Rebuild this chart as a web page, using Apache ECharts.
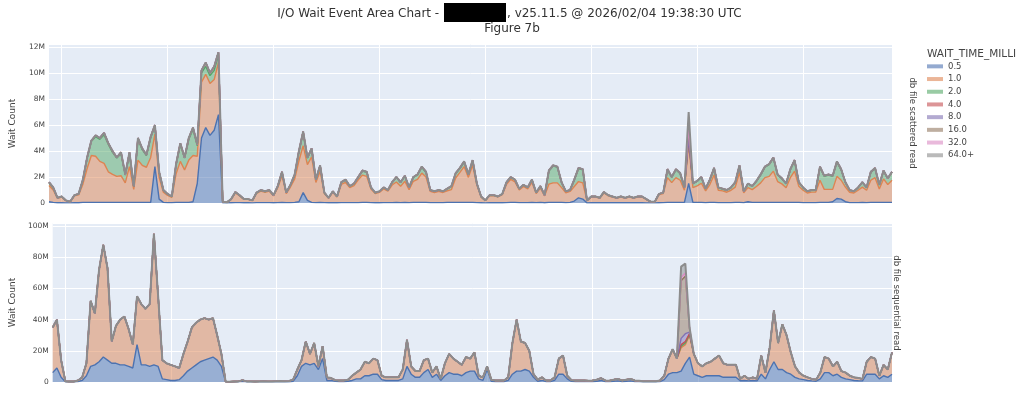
<!DOCTYPE html>
<html>
<head>
<meta charset="utf-8">
<script src="https://cdn.jsdelivr.net/npm/echarts@6/dist/echarts.min.js"></script>
<style>
  html, body { margin: 0; padding: 0; background: #fff; }
  #chart { width: 1024px; height: 395px; }
</style>
</head>
<body>
<div id="chart"></div>
<script>
"use strict";

// legend entries (WAIT_TIME_MILLI buckets) and their colours
const waitTimes = ["0.5", "1.0", "2.0", "4.0", "8.0", "16.0", "32.0", "64.0+"];
const colors = ["#4c72b0", "#dd8452", "#55a868", "#c44e52", "#8172b3", "#937860", "#da8bc3", "#8c8c8c"];

// sample slots along the (unlabelled) time axis
const samples = Array.from({ length: 200 }, (_, i) => i);

// ---- db file scattered read, values in millions ----
const scat05 = [
  0.1,0.05,0.02,0.02,0.01,0.01,0.02,0.02,0.05,0.05,
  0.05,0.05,0.05,0.05,0.05,0.05,0.05,0.05,0.05,0.05,
  0.05,0.05,0.05,0.05,0.05,2.8,0.3,0.05,0.03,0.03,
  0.05,0.05,0.05,0.05,0.1,1.5,5.0,5.8,5.2,5.6,
  6.8,0.01,0.01,0.02,0.03,0.03,0.02,0.02,0.01,0.03,
  0.03,0.03,0.03,0.02,0.03,0.05,0.03,0.03,0.05,0.1,
  0.8,0.2,0.05,0.03,0.05,0.03,0.02,0.03,0.02,0.03,
  0.03,0.03,0.03,0.03,0.05,0.05,0.03,0.02,0.02,0.03,
  0.03,0.03,0.05,0.03,0.05,0.03,0.05,0.05,0.05,0.05,
  0.03,0.03,0.03,0.03,0.05,0.05,0.05,0.05,0.05,0.05,
  0.05,0.03,0.02,0.01,0.02,0.02,0.02,0.02,0.03,0.05,
  0.05,0.03,0.03,0.03,0.05,0.03,0.05,0.02,0.05,0.05,
  0.05,0.05,0.03,0.05,0.15,0.4,0.3,0.01,0.02,0.02,
  0.02,0.03,0.02,0.02,0.02,0.02,0.02,0.02,0.02,0.02,
  0.02,0.01,0.01,0.01,0.02,0.03,0.05,0.05,0.05,0.05,
  0.05,1.5,0.05,0.05,0.05,0.03,0.05,0.05,0.03,0.03,
  0.03,0.03,0.05,0.05,0.03,0.1,0.05,0.05,0.05,0.05,
  0.05,0.05,0.05,0.05,0.05,0.05,0.05,0.05,0.03,0.03,
  0.03,0.03,0.05,0.05,0.05,0.1,0.35,0.3,0.1,0.03,
  0.03,0.03,0.05,0.03,0.05,0.05,0.05,0.05,0.05,0.05
];
const scat10 = [
  1.25,0.95,0.33,0.43,0.17,0.08,0.53,0.6,1.4,2.6,
  3.6,3.55,3.15,3.0,2.35,2.15,2.0,2.05,1.5,2.75,
  1.0,3.25,2.85,2.7,3.45,2.5,1.65,0.78,0.55,0.4,
  2.2,3.15,2.5,3.25,3.55,2.1,4.3,4.1,4.0,3.9,
  4.0,0.08,0.04,0.26,0.75,0.52,0.26,0.26,0.18,0.7,
  0.88,0.79,0.88,0.53,1.15,2.05,0.7,1.2,1.8,3.15,
  3.6,2.75,3.5,1.55,2.4,0.7,0.35,0.79,0.44,1.4,
  1.55,1.15,1.3,1.75,2.1,2.0,1.05,0.71,0.8,1.05,
  0.88,1.35,1.57,1.25,1.62,1.0,1.62,1.77,2.25,1.95,
  0.86,0.78,0.86,0.78,0.89,0.98,1.87,2.3,2.75,1.92,
  2.85,1.35,0.45,0.18,0.54,0.54,0.45,0.62,1.4,1.77,
  1.58,0.98,1.25,1.06,1.53,0.7,1.09,0.53,1.4,1.5,
  1.5,1.13,0.76,0.84,1.12,1.25,1.25,0.17,0.44,0.44,
  0.35,0.75,0.54,0.44,0.35,0.44,0.35,0.44,0.35,0.44,
  0.44,0.27,0.08,0.08,0.63,0.7,1.9,1.52,1.9,1.7,
  0.93,3.1,1.13,1.27,1.47,0.9,1.37,2.1,0.95,0.9,
  0.8,0.95,1.17,2.3,0.75,1.08,0.98,1.22,1.5,1.9,
  2.0,2.4,1.6,1.42,1.13,1.9,2.4,1.23,0.95,0.74,
  0.81,0.81,1.7,1.0,1.0,0.95,1.7,1.45,1.13,0.8,
  0.74,0.95,1.17,0.95,1.7,1.9,1.03,1.8,1.37,1.7
];
const scat20 = [
  0.2,0.15,0.05,0.05,0.02,0.01,0.05,0.08,0.3,0.8,
  1.1,1.5,1.7,2.2,2.1,1.7,1.4,1.7,0.6,1.0,
  0.2,1.6,1.2,0.9,1.5,0.6,0.4,0.15,0.1,0.05,
  0.7,1.3,0.9,1.6,2.0,0.8,0.7,0.6,0.6,0.7,
  0.6,0.01,0,0.02,0.05,0.04,0.02,0.02,0.01,0.05,
  0.07,0.06,0.07,0.04,0.1,0.25,0.06,0.15,0.3,0.7,
  1.0,0.5,0.6,0.2,0.4,0.06,0.03,0.07,0.04,0.15,
  0.2,0.1,0.15,0.2,0.3,0.3,0.1,0.06,0.07,0.1,
  0.08,0.2,0.35,0.3,0.4,0.15,0.3,0.35,0.45,0.35,
  0.1,0.08,0.1,0.08,0.15,0.25,0.35,0.3,0.35,0.2,
  0.35,0.1,0.03,0.01,0.04,0.04,0.03,0.05,0.15,0.15,
  0.15,0.08,0.1,0.1,0.2,0.06,0.15,0.05,1.0,1.3,
  1.2,0.4,0.1,0.1,0.5,1.0,1.0,0.02,0.04,0.04,
  0.03,0.06,0.04,0.04,0.03,0.04,0.03,0.04,0.03,0.04,
  0.04,0.02,0.01,0.01,0.05,0.06,0.6,0.4,0.6,0.5,
  0.2,0.3,0.3,0.35,0.45,0.15,0.35,0.5,0.2,0.15,
  0.15,0.2,0.35,0.5,0.1,0.3,0.25,0.4,0.6,0.8,
  0.9,1.0,0.5,0.4,0.3,0.6,0.8,0.3,0.2,0.12,
  0.15,0.15,1.0,1.0,1.1,1.0,1.1,0.8,0.35,0.15,
  0.12,0.2,0.35,0.2,0.6,0.7,0.3,0.6,0.45,0.6
];
const scat40 = [
  0.05,0.05,0,0,0,0,0,0,0.05,0.05,
  0.05,0.1,0.1,0.15,0.1,0.1,0.05,0.1,0.05,0.1,
  0.05,0.1,0.1,0.05,0.1,0.1,0.05,0.02,0.02,0.02,
  0.05,0.1,0.05,0.1,0.15,0.1,0.2,0.3,0.2,0.3,
  0.2,0,0,0,0.02,0.01,0,0,0,0.02,
  0.02,0.02,0.02,0.01,0.02,0.05,0.01,0.02,0.05,0.05,
  0.1,0.05,0.05,0.02,0.05,0.01,0,0.01,0,0.02,
  0.02,0.02,0.02,0.02,0.05,0.05,0.02,0.01,0.01,0.02,
  0.01,0.02,0.03,0.02,0.03,0.02,0.03,0.03,0.05,0.05,
  0.01,0.01,0.01,0.01,0.01,0.02,0.03,0.05,0.05,0.03,
  0.05,0.02,0,0,0,0,0,0.01,0.02,0.03,
  0.02,0.01,0.02,0.01,0.02,0.01,0.01,0,0.05,0.05,
  0.05,0.02,0.01,0.01,0.03,0.05,0.05,0,0,0,
  0,0.01,0,0,0,0,0,0,0,0,
  0,0,0,0,0,0.01,0.05,0.03,0.05,0.05,
  0.02,0.1,0.02,0.03,0.03,0.02,0.03,0.05,0.02,0.02,
  0.02,0.02,0.03,0.05,0.02,0.02,0.02,0.03,0.05,0.05,
  0.05,0.05,0.05,0.03,0.02,0.05,0.05,0.02,0.02,0.01,
  0.01,0.01,0.05,0.05,0.05,0.05,0.05,0.05,0.02,0.02,
  0.01,0.02,0.03,0.02,0.05,0.05,0.02,0.05,0.03,0.05
];
// the slower buckets only show up in a few slots: {slot: value}
const scat80 = {};
const scat160 = { 151: 0.8 };
const scat320 = {};
const scat640 = { 151: 1.2 };

// ---- db file sequential read, values in millions ----
const seq05 = [
  6,9,3,0.2,0.1,0.1,0.3,1,4,10,
  11,13,16,14,12,12,11,11,10,9,
  24,11,11,10,11,10,2,1.5,1,1,
  1.5,4,7,9,11,13,14,15,16,14,
  10,0.1,0.1,0.1,0.1,0.4,0.1,0.1,0.1,0.1,
  0.2,0.1,0.1,0.2,0.2,0.2,0.2,0.5,4,10,
  12,11,12,8,15,1,1,0.4,0.3,0.3,
  0.5,1,2,2,4,4,5,5,1.5,1,
  1,1,1,2,10,5,3,3,6,8,
  3,5,1,4,6,5,5,4,6,7,
  7,2,1,8,0.5,0.3,0.3,0.3,1,5,
  7,7,8,7,3,0.5,1,0.3,0.3,1,
  5,5,2,0.4,0.3,0.3,0.3,0.3,0.3,0.5,
  1,0.3,0.3,0.5,0.7,0.3,0.5,0.7,0.3,0.3,
  0.2,0.2,0.2,0.2,0.3,1.5,5,6,6,7,
  12,16,5,4,3,4,4,4,4,3,
  3,3,3,0.8,1,0.7,1,0.7,5,2,
  8,13,8,8,6,5,3,2,1.5,1,
  0.7,0.5,2,6,6,4,5,3,2,1.5,
  1,0.8,0.7,5,5,5,2,4,3,5
];
const seq10 = [
  29,31,11,0.3,0.2,0.2,0.7,2,8,42,
  33,59,72,59,14,24,29,31,24,15,
  31,39,36,40,84,45,12,10.5,10,9,
  7.5,14,19,26,27,27,27,25,25,16,
  8,0.2,0.1,0.2,0.3,0.8,0.3,0.3,0.2,0.3,
  0.3,0.3,0.3,0.3,0.4,0.3,0.4,1.0,4,4,
  14,7,13,2,8,2,1.5,0.8,0.7,0.7,
  1.0,3,4,6,9,8,10,9,2.5,2,
  2,2,2,6,17,5,4,4,8,7,
  3,5,1,8,12,10,8,7,10,8,
  12,2,2,2,1,0.7,0.7,0.7,2,20,
  33,19,17,13,2,1,2,0.7,0.7,2,
  10,12,2,0.8,0.7,0.7,0.7,0.5,0.7,1,
  1.5,0.7,0.5,1,1.3,0.7,1,1.3,0.7,0.5,
  0.3,0.3,0.3,0.3,0.7,2.5,10,15,9,15,
  12,14,13,8,7,8,9,11,13,9,
  8,8,8,1.2,3,1.3,2,1.3,12,4,
  14,33,17,29,24,14,7,4,2.5,2,
  1.3,1,4,10,9,6,8,4,4,2.5,
  2,1.7,1.3,8,11,10,2,7,5,14
];
const seq20 = { 149: 1, 150: 1, 151: 0.5 };
const seq40 = { 149: 1, 150: 1, 151: 0.5 };
const seq80 = { 149: 4, 150: 5, 151: 1 };
const seq160 = { 149: 37, 150: 37, 151: 2 };
const seq320 = { 149: 2, 150: 2, 151: 0.5 };
const seq640 = { 149: 7, 150: 6, 151: 0.5 };

const dense = (m) => samples.map((i) => m[i] || 0);

const FONT = "DejaVu Sans";
const TXT = "#444";

const chart = echarts.init(document.getElementById("chart"));

const makeSeries = (arrays, idx) =>
  arrays.map((data, k) => ({
    name: waitTimes[k],
    type: "line",
    stack: "panel" + idx,
    xAxisIndex: idx,
    yAxisIndex: idx,
    data: data,
    symbol: "none",
    smooth: false,
    animation: false,
    lineStyle: { width: k === 7 ? 2 : 1.4, color: colors[k] },
    itemStyle: { color: colors[k] },
    areaStyle: { color: colors[k], opacity: 0.5 },
    emphasis: { disabled: true }
  }));

const fmt = (step) => (v) => (v % step ? "" : v === 0 ? "0" : v + "M");

const xAxisOf = (idx) => ({
  type: "category",
  gridIndex: idx,
  data: samples,
  boundaryGap: false,
  axisLine: { show: false },
  axisTick: { show: false },
  axisLabel: { show: false },
  splitLine: {
    show: true,
    interval: (i) => (i - 3) % 25 === 0,
    lineStyle: { color: "#ffffff", width: 1 }
  }
});

const yAxisOf = (idx, max, step) => ({
  type: "value",
  gridIndex: idx,
  min: 0,
  max: max,
  interval: step,
  name: "Wait Count",
  nameLocation: "middle",
  nameGap: 32,
  nameTextStyle: { color: TXT, fontSize: 9, fontFamily: FONT },
  axisLine: { show: false },
  axisTick: { show: false },
  axisLabel: { color: TXT, fontSize: 7.5, fontFamily: FONT, margin: 4, formatter: fmt(step) },
  splitLine: { lineStyle: { color: "#ffffff", width: 1 } }
});

const sideLabel = (text, x, y) => ({
  type: "text",
  x: x,
  y: y,
  rotation: -Math.PI / 2,
  style: { text: text, fill: TXT, font: "8.5px " + FONT, align: "center", verticalAlign: "middle" }
});

chart.setOption({
  animation: false,
  grid: [
    { left: 43, top: 44, width: 849, height: 159, show: true, backgroundColor: "#e5ecf6", borderWidth: 0 },
    { left: 43, top: 223, width: 849, height: 159, show: true, backgroundColor: "#e5ecf6", borderWidth: 0 }
  ],
  xAxis: [xAxisOf(0), xAxisOf(1)],
  yAxis: [yAxisOf(0, 12.23, 2), yAxisOf(1, 102, 20)],
  legend: {
    data: waitTimes,
    orient: "vertical",
    left: 927,
    top: 60,
    padding: 0,
    itemGap: 0,
    itemWidth: 16,
    itemHeight: 4,
    icon: "rect",
    itemStyle: { opacity: 0.6 },
    textStyle: { color: TXT, fontSize: 8.5, fontFamily: FONT, lineHeight: 12.7 },
    selectedMode: false
  },
  graphic: [
    {
      type: "text", x: 443, y: 14,
      style: { text: "I/O Wait Event Area Chart - ", fill: "#333", font: "12px " + FONT, align: "right", verticalAlign: "middle" }
    },
    { type: "rect", shape: { x: 444, y: 3, width: 62, height: 19 }, style: { fill: "#000" } },
    {
      type: "text", x: 507, y: 14,
      style: { text: ", v25.11.5 @ 2026/02/04 19:38:30 UTC", fill: "#333", font: "12px " + FONT, align: "left", verticalAlign: "middle" }
    },
    {
      type: "text", x: 512, y: 29,
      style: { text: "Figure 7b", fill: "#333", font: "12px " + FONT, align: "center", verticalAlign: "middle" }
    },
    {
      type: "text", x: 927, y: 54,
      style: { text: "WAIT_TIME_MILLI", fill: TXT, font: "10.5px " + FONT, align: "left", verticalAlign: "middle" }
    },
    sideLabel("db file scattered read", 912, 123),
    sideLabel("db file sequential read", 896, 303)
  ],
  series: [
    ...makeSeries([scat05, scat10, scat20, scat40, dense(scat80), dense(scat160), dense(scat320), dense(scat640)], 0),
    ...makeSeries([seq05, seq10, dense(seq20), dense(seq40), dense(seq80), dense(seq160), dense(seq320), dense(seq640)], 1)
  ]
});
</script>
</body>
</html>
